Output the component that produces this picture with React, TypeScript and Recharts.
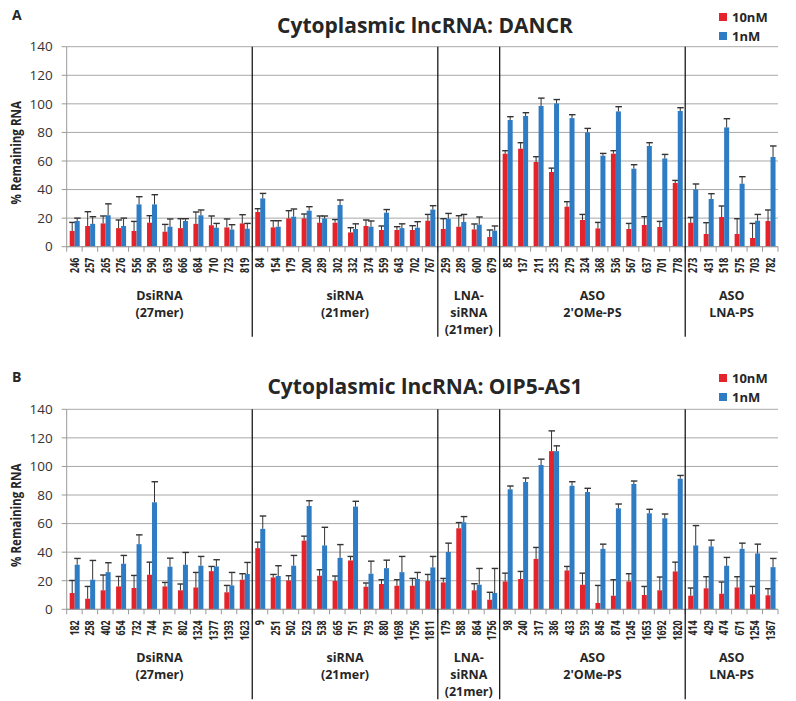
import React from 'react';
import { BarChart, Bar, XAxis, YAxis, CartesianGrid, Legend } from 'recharts';

const FONT = '"Open Sans", "Noto Sans", sans-serif';
const RED = '#e4232a';
const BLUE = '#2e7cc4';
const GRID = '#a8a8a8';
const TEXT = '#262626';

const Y_TICKS = [0, 20, 40, 60, 80, 100, 120, 140];

// group captions under the x axis, with how many categories each spans
const GROUP_SIZES = [12, 12, 4, 12, 6];
const GROUP_LINES = [
  ['DsiRNA', '(27mer)'],
  ['siRNA', '(21mer)'],
  ['LNA-', 'siRNA', '(21mer)'],
  ['ASO', "2'OMe-PS"],
  ['ASO', 'LNA-PS'],
];

// ---- panel A: DANCR ----
const labelsA = [
  '246', '257', '265', '276', '556', '590', '639', '666', '684', '710', '723', '819',
  '84', '154', '179', '200', '289', '302', '332', '374', '559', '643', '702', '767',
  '259', '289', '600', '679',
  '85', '137', '211', '235', '279', '324', '368', '536', '567', '637', '701', '778',
  '273', '431', '518', '575', '703', '782',
];
const redA = [
  11, 14.5, 16.3, 13, 11, 16.8, 10.5, 13, 16, 15, 13.5, 16.3,
  24.3, 13.5, 19.8, 19.8, 16.8, 16.8, 10, 14.5, 11.7, 11.7, 11.7, 18.2,
  12.4, 14, 12.1, 6.8,
  65.1, 68.6, 59.3, 52.3, 28, 18.7, 12.8, 65.1, 12.4, 15.2, 13.8, 44.6,
  16.8, 8.9, 20.8, 8.9, 6.1, 18,
];
const redErrA = [
  6, 10, 5.2, 5.7, 6.7, 4.9, 5.1, 6.6, 8.3, 6.5, 5.9, 6.1,
  2.3, 4.7, 5.4, 3.1, 4.7, 2.2, 3.3, 4.2, 2.8, 2.3, 3, 4.4,
  7.2, 7.7, 3.8, 4.9,
  2.1, 4.2, 3.7, 2.7, 3.5, 3.9, 4.2, 2.1, 3.9, 5.8, 3.9, 1.8,
  3.7, 7.9, 7.7, 10.7, 10.2, 7.7,
];
const blueA = [
  18, 16, 22, 14.5, 29.6, 29.6, 14, 18, 22, 13.3, 12, 12.6,
  33.8, 14, 21, 25.2, 19.8, 29.2, 12.4, 14, 23.8, 13, 13.3, 26,
  19.6, 17.3, 15.4, 11.2,
  88.7, 91.5, 98.5, 100.3, 90, 80, 63.7, 94.7, 54.6, 70.5, 61.8, 95,
  40.1, 33.4, 83.5, 44.1, 18.2, 62.8,
];
const blueErrA = [
  2, 5, 8, 5.5, 5.4, 6.8, 5.4, 1.6, 3.7, 3, 3.4, 3.7,
  3.5, 4.2, 5.4, 2.8, 1.7, 3.5, 3.6, 4, 2.2, 3, 4.2, 2.7,
  3.7, 5.3, 5.4, 3.3,
  2.3, 2.3, 5.5, 2.7, 2.4, 2.8, 1.6, 3.3, 2.8, 2.3, 2.8, 2.3,
  3.8, 3.7, 6.1, 4.9, 4.4, 7.7,
];

// ---- panel B: OIP5-AS1 ----
const labelsB = [
  '182', '258', '402', '654', '732', '744', '791', '802', '1324', '1377', '1393', '1623',
  '9', '251', '502', '523', '538', '665', '751', '793', '880', '1698', '1756', '1811',
  '179', '588', '864', '1756',
  '98', '240', '317', '386', '433', '539', '845', '874', '1245', '1653', '1692', '1820',
  '414', '429', '474', '671', '1254', '1367',
];
const redB = [
  11.4, 7.4, 13.3, 16, 14.9, 24.2, 16, 13.3, 15.3, 26.7, 11.9, 20.7,
  42.8, 22.3, 20.2, 48.1, 23.5, 19.8, 34.2, 15.8, 17.7, 16.5, 16.5, 19.8,
  18.8, 56.7, 13.3, 6.7,
  19.5, 21.2, 35.3, 110.7, 27.2, 17.2, 4.4, 9.5, 19.5, 10, 13.3, 26.5,
  9.5, 14.7, 10.9, 15.3, 10.5, 9.8,
];
const redErrB = [
  8.8, 8.6, 10.7, 7, 8.8, 8.8, 2.8, 4.4, 10.5, 3.3, 4.8, 4.2,
  4.2, 2.1, 3.3, 3.1, 4.2, 3.5, 2.8, 2.6, 3, 4.2, 5.1, 4.6,
  2.8, 4, 4.6, 5.2,
  5.8, 5.3, 8, 14.2, 2.8, 8.1, 12.3, 11.2, 5.4, 6, 9.3, 6.5,
  5.4, 8.1, 8.2, 7.5, 5.5, 4.6,
];
const blueB = [
  31.2, 20.7, 26, 31.9, 45.6, 74.9, 29.8, 31.2, 30.5, 30, 16.7, 24.7,
  56.3, 23.3, 30.5, 72.3, 44.7, 36, 71.9, 24.9, 28.8, 26, 21.2, 29.3,
  40.2, 60.9, 17.2, 11.4,
  84, 89.1, 101, 110.7, 86.5, 82.1, 42.3, 70.7, 87.7, 67.2, 63.7, 91.4,
  44.7, 44, 30.5, 42.3, 39.1, 29.5,
];
const blueErrB = [
  4.4, 13.5, 6.6, 5.8, 6.5, 14.4, 6, 8.6, 6.5, 4.7, 9.1, 8.1,
  9, 7.2, 7.2, 3.7, 12.7, 9.3, 3.7, 8.8, 5.6, 11, 4.6, 7.7,
  6.1, 4, 11.4, 17.2,
  2.3, 2.8, 4.1, 3.7, 2.8, 2.6, 3.3, 3, 2.1, 2.8, 3, 2.3,
  13.9, 4.4, 5.8, 4, 6.5, 6.1,
];

// layout
const WIDTH = 796;
const PLOT_LEFT = 66.7;
const PLOT_RIGHT = 778;
const PLOT_H = 200;

// bar with an upward-only error whisker (scaled from the bar's own pixel height)
const barWithError = (valKey: string, errKey: string) => (props: any) => {
  const { x, y, width, height, fill, payload } = props;
  const v = payload[valKey];
  const e = payload[errKey];
  const k = v ? height / v : 0;
  const top = y - e * k;
  const cx = x + width / 2;
  return (
    <g>
      <rect x={x} y={y} width={width} height={height} fill={fill} />
      <line x1={cx} x2={cx} y1={y} y2={top} stroke="#333" strokeWidth={1} />
      <line x1={cx - 3} x2={cx + 3.5} y1={top} y2={top} stroke="#333" strokeWidth={1.4} />
    </g>
  );
};

const LegendBox = ({ payload }: any) => (
  <div style={{ fontFamily: FONT, fontWeight: 700, fontSize: 13, color: TEXT }}>
    {(payload || []).map((p: any) => (
      <div key={p.value} style={{ display: 'flex', alignItems: 'center', height: 19 }}>
        <span style={{ display: 'inline-block', width: 8, height: 8, background: p.color, marginRight: 5 }} />
        {p.value}
      </div>
    ))}
  </div>
);

interface PanelProps {
  top: number;
  height: number;
  plotTop: number;
  title: string;
  titleY: number;
  letter: string;
  letterY: number;
  legendTop: number;
  labels: string[];
  red: number[];
  redErr: number[];
  blue: number[];
  blueErr: number[];
}

const Panel: React.FC<PanelProps> = (p) => {
  const n = p.labels.length;
  const band = (PLOT_RIGHT - PLOT_LEFT) / n;
  const plotBottom = p.plotTop + PLOT_H;
  const data = p.labels.map((l, i) => ({
    id: `c${i}`,
    red: p.red[i],
    redErr: p.redErr[i],
    blue: p.blue[i],
    blueErr: p.blueErr[i],
  }));

  const renderTick = (t: any) => {
    const idx = Number(String(t.payload.value).slice(1));
    return (
      <text
        transform={`translate(${t.x + 4.3},${t.y + 11}) rotate(-90) scale(0.74,1)`}
        textAnchor="end"
        fontSize={12}
        fontWeight={700}
        fill={TEXT}
        fontFamily={FONT}
      >
        {p.labels[idx]}
      </text>
    );
  };

  // boundaries between groups
  const bounds: number[] = [];
  let acc = 0;
  GROUP_SIZES.forEach((s) => {
    bounds.push(acc);
    acc += s;
  });

  return (
    <div style={{ position: 'absolute', left: 0, top: p.top, width: WIDTH, height: p.height }}>
      <BarChart
        width={WIDTH}
        height={p.height}
        data={data}
        margin={{ top: p.plotTop, right: WIDTH - PLOT_RIGHT, bottom: 0, left: 0 }}
        barGap={0}
        barSize={5}
      >
        <CartesianGrid vertical={false} stroke={GRID} />
        <XAxis
          dataKey="id"
          interval={0}
          height={p.height - p.plotTop - PLOT_H}
          tickSize={0}
          tickMargin={0}
          tickLine={false}
          axisLine={{ stroke: '#9a9a9a' }}
          tick={renderTick}
        />
        <YAxis
          domain={[0, 140]}
          ticks={Y_TICKS}
          interval={0}
          width={PLOT_LEFT}
          tickSize={5}
          tickMargin={9}
          axisLine={{ stroke: '#9a9a9a' }}
          tickLine={{ stroke: '#9a9a9a' }}
          tick={{ fontSize: 13.5, fill: '#333', fontFamily: FONT }}
        />
        <Legend
          layout="vertical"
          align="center"
          verticalAlign="middle"
          wrapperStyle={{ left: 719, top: p.legendTop }}
          content={<LegendBox />}
        />
        <Bar dataKey="red" name="10nM" fill={RED} shape={barWithError('red', 'redErr')} isAnimationActive={false} />
        <Bar dataKey="blue" name="1nM" fill={BLUE} shape={barWithError('blue', 'blueErr')} isAnimationActive={false} />
      </BarChart>
      <svg
        width={WIDTH}
        height={p.height}
        style={{ position: 'absolute', left: 0, top: 0, pointerEvents: 'none' }}
        fontFamily={FONT}
      >
        <text x={12} y={p.letterY} fontSize={14} fontWeight={700} fill={TEXT}>{p.letter}</text>
        <text x={425} y={p.titleY} fontSize={21} fontWeight={700} fill={TEXT} textAnchor="middle">{p.title}</text>
        <text
          transform={`translate(21,${p.plotTop + PLOT_H / 2 + 6}) rotate(-90) scale(0.83,1)`}
          fontSize={14}
          fontWeight={700}
          fill={TEXT}
          textAnchor="middle"
        >
          % Remaining RNA
        </text>
        {Array.from({ length: n + 1 }, (_, k) => (
          <line
            key={`t${k}`}
            x1={PLOT_LEFT + k * band}
            x2={PLOT_LEFT + k * band}
            y1={plotBottom}
            y2={plotBottom + 5}
            stroke="#9a9a9a"
          />
        ))}
        {bounds.slice(1).map((b) => (
          <line
            key={`s${b}`}
            x1={PLOT_LEFT + b * band}
            x2={PLOT_LEFT + b * band}
            y1={p.plotTop}
            y2={plotBottom + 90}
            stroke="#1a1a1a"
            strokeWidth={1.3}
          />
        ))}
        {GROUP_LINES.map((lines, g) => {
          const cx = PLOT_LEFT + (bounds[g] + GROUP_SIZES[g] / 2) * band;
          return lines.map((ln, j) => (
            <text
              key={`g${g}-${j}`}
              x={cx}
              y={plotBottom + 53 + j * 17}
              fontSize={12.5}
              fontWeight={700}
              fill={TEXT}
              textAnchor="middle"
            >
              {ln}
            </text>
          ));
        })}
      </svg>
    </div>
  );
};

export default function App() {
  return (
    <div style={{ position: 'absolute', left: 0, top: 0, width: WIDTH, height: 701, background: '#fff' }}>
      <Panel
        top={0}
        height={350}
        plotTop={46.7}
        title="Cytoplasmic lncRNA: DANCR"
        titleY={33.3}
        letter="A"
        letterY={20}
        legendTop={7}
        labels={labelsA}
        red={redA}
        redErr={redErrA}
        blue={blueA}
        blueErr={blueErrA}
      />
      <Panel
        top={350}
        height={351}
        plotTop={59.3}
        title="Cytoplasmic lncRNA: OIP5-AS1"
        titleY={43.5}
        letter="B"
        letterY={31.5}
        legendTop={18}
        labels={labelsB}
        red={redB}
        redErr={redErrB}
        blue={blueB}
        blueErr={blueErrB}
      />
    </div>
  );
}
